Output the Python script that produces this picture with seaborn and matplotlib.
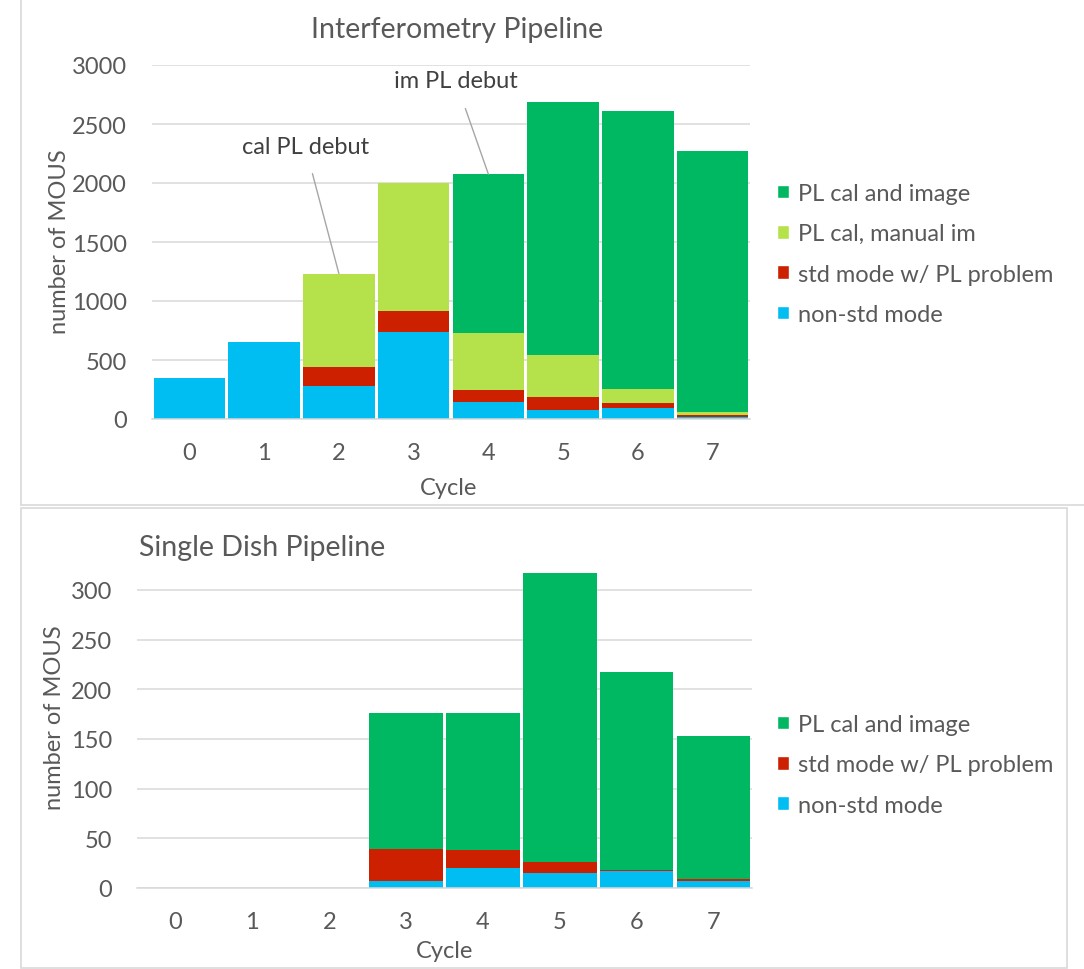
import numpy as np
import matplotlib
matplotlib.use("Agg")
import matplotlib.pyplot as plt
import matplotlib.transforms as mtransforms
from matplotlib.patches import Patch
from matplotlib.lines import Line2D
import seaborn as sns

# ---- data -----------------------------------------------------------
cycles = [0, 1, 2, 3, 4, 5, 6, 7]

# Interferometry pipeline (number of MOUS per cycle, per category)
if_non_std = [345, 655, 278, 738, 142, 77, 92, 20]
if_std_problem = [0, 0, 163, 175, 104, 107, 45, 18]
if_cal_manual = [0, 0, 792, 1089, 486, 362, 118, 20]
if_cal_image = [0, 0, 0, 0, 1343, 2140, 2357, 2212]

# Single dish pipeline
sd_non_std = [0, 0, 0, 7, 20, 15, 17, 7]
sd_std_problem = [0, 0, 0, 32, 18, 11, 1, 2]
sd_cal_image = [0, 0, 0, 137, 138, 291, 199, 144]

lab_cal_image = "PL cal and image"
lab_cal_manual = "PL cal, manual im"
lab_std_problem = "std mode w/ PL problem"
lab_non_std = "non-std mode"

# ---- style ----------------------------------------------------------
C_GREEN = "#00B862"
C_LIME = "#B5E14A"
C_RED = "#CC2000"
C_BLUE = "#00BEF2"
C_TEXT = "#595959"
C_GRID = "#D9D9D9"

sns.set_style("white")
plt.rcParams["font.family"] = ["Lato", "DejaVu Sans"]

TICK_FS = 17
LEG_FS = 17
LAB_FS = 17
TITLE_FS = 20.5
NOTE_FS = 17

W, H = 1084, 970
fig = plt.figure(figsize=(W / 100, H / 100), dpi=100)


def fx(px):
    return px / W


def fy(py):
    return 1 - py / H


def stacked(ax, layers):
    """Draw stacked bars by overlaying cumulative totals, tallest first."""
    cum = np.cumsum(np.array([v for v, _ in layers], dtype=float), axis=0)
    for i in range(len(layers) - 1, -1, -1):
        sns.barplot(x=cycles, y=cum[i], color=layers[i][1], width=0.955,
                    saturation=1, errorbar=None, linewidth=0,
                    edgecolor="none", ax=ax)
    return cum[-1]


def style_axes(ax, ymax, step, ytop, label_drop):
    ax.set_ylim(0, ymax)
    ax.set_xlim(-0.5, len(cycles) - 0.5)
    ax.set_yticks(np.arange(0, ytop + 1, step))
    ax.grid(axis="y", color=C_GRID, linewidth=1.1, zorder=0)
    ax.set_axisbelow(True)
    for s in ["left", "right", "top"]:
        ax.spines[s].set_visible(False)
    ax.spines["bottom"].set_color(C_GRID)
    ax.spines["bottom"].set_linewidth(1.1)
    # category boundaries carry the tick marks, labels sit at the centres
    ax.set_xticks(np.arange(-0.5, len(cycles), 1.0))
    ax.set_xticklabels([])
    ax.tick_params(axis="x", length=5.5, width=1.1, color=C_GRID,
                   direction="out")
    ax.tick_params(axis="y", length=0, pad=18, labelsize=TICK_FS,
                   labelcolor=C_TEXT)
    base = mtransforms.blended_transform_factory(ax.transData, ax.transAxes)
    trans = mtransforms.offset_copy(base, fig=fig, x=0,
                                    y=-label_drop * 72 / 100, units="points")
    for i, c in enumerate(cycles):
        ax.text(i, 0, str(c), transform=trans, ha="center", va="center",
                fontsize=TICK_FS, color=C_TEXT)
    ax.set_xlabel("")
    ax.set_ylabel("")


# ---- panel frames ---------------------------------------------------
fig.add_artist(Line2D([fx(21), fx(21)], [fy(0), fy(506)],
                      color=C_GRID, lw=1.2, transform=fig.transFigure))
fig.add_artist(Line2D([fx(21), fx(1084)], [fy(506), fy(506)],
                      color=C_GRID, lw=1.2, transform=fig.transFigure))
fig.add_artist(plt.Rectangle((fx(21), fy(969)), fx(1067 - 21),
                             (969 - 509) / H, fill=False, edgecolor=C_GRID,
                             lw=1.2, transform=fig.transFigure))

# ---- top: interferometry --------------------------------------------
ax1 = fig.add_axes([fx(152), fy(420), fx(750 - 152), (420 - 66) / H])
if_total = stacked(ax1, [(if_non_std, C_BLUE), (if_std_problem, C_RED),
                         (if_cal_manual, C_LIME), (if_cal_image, C_GREEN)])
style_axes(ax1, 3000, 500, 3000, 33)

ax1.annotate("cal PL debut", xy=(2.0, if_total[2]), xytext=(1.55, 2310),
             ha="center", va="center", fontsize=NOTE_FS, color="#404040",
             arrowprops=dict(arrowstyle="-", color="#A6A6A6", lw=1,
                             shrinkA=10, shrinkB=0))
ax1.annotate("im PL debut", xy=(4.0, if_total[4]), xytext=(3.56, 2870),
             ha="center", va="center", fontsize=NOTE_FS, color="#404040",
             arrowprops=dict(arrowstyle="-", color="#A6A6A6", lw=1,
                             shrinkA=11, shrinkB=0))

fig.text(fx(457), fy(30), "Interferometry Pipeline", ha="center",
         va="center", fontsize=TITLE_FS, color=C_TEXT)
fig.text(fx(60), fy(242), "number of MOUS", rotation=90, ha="center",
         va="center", fontsize=LAB_FS, color=C_TEXT)
fig.text(fx(449), fy(489), "Cycle", ha="center", va="center",
         fontsize=LAB_FS, color=C_TEXT)

h1 = [Patch(facecolor=C_GREEN, label=lab_cal_image),
      Patch(facecolor=C_LIME, label=lab_cal_manual),
      Patch(facecolor=C_RED, label=lab_std_problem),
      Patch(facecolor=C_BLUE, label=lab_non_std)]
fig.legend(handles=h1, loc="upper left",
           bbox_to_anchor=(fx(765), fy(172)), frameon=False, fontsize=LEG_FS,
           labelcolor=C_TEXT, handlelength=0.52, handleheight=0.52,
           handletextpad=0.38, labelspacing=0.82, borderpad=0)

# ---- bottom: single dish --------------------------------------------
ax2 = fig.add_axes([fx(137), fy(889), fx(752 - 137), 318 / H])
stacked(ax2, [(sd_non_std, C_BLUE), (sd_std_problem, C_RED),
              (sd_cal_image, C_GREEN)])
style_axes(ax2, 320, 50, 300, 34)

fig.text(fx(262), fy(548), "Single Dish Pipeline", ha="center",
         va="center", fontsize=TITLE_FS, color=C_TEXT)
fig.text(fx(55), fy(718), "number of MOUS", rotation=90, ha="center",
         va="center", fontsize=LAB_FS, color=C_TEXT)
fig.text(fx(445), fy(952), "Cycle", ha="center", va="center",
         fontsize=LAB_FS, color=C_TEXT)

h2 = [Patch(facecolor=C_GREEN, label=lab_cal_image),
      Patch(facecolor=C_RED, label=lab_std_problem),
      Patch(facecolor=C_BLUE, label=lab_non_std)]
fig.legend(handles=h2, loc="upper left",
           bbox_to_anchor=(fx(765), fy(703)), frameon=False, fontsize=LEG_FS,
           labelcolor=C_TEXT, handlelength=0.52, handleheight=0.52,
           handletextpad=0.38, labelspacing=0.82, borderpad=0)

fig.savefig("out.png", dpi=100)
